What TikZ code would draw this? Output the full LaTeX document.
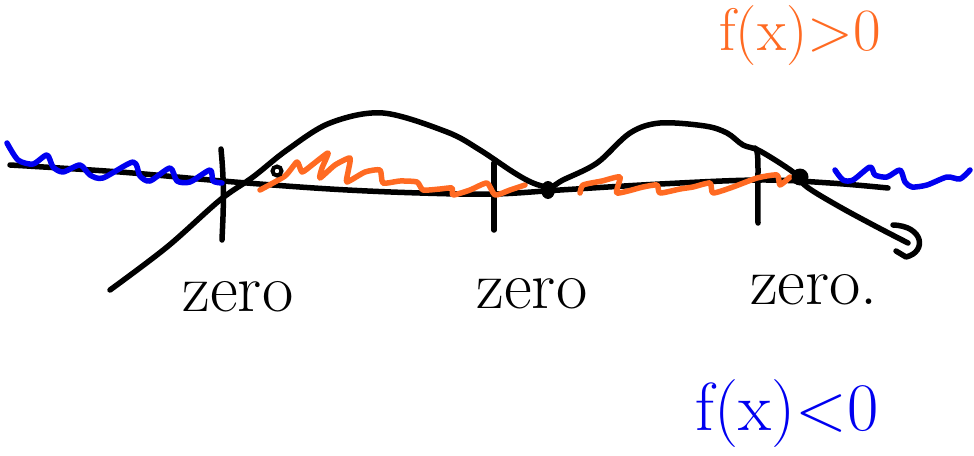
\documentclass[tikz,border=0pt]{standalone}
\usepackage{fontspec}
\begin{document}
\begin{tikzpicture}[x=1pt,y=-1pt,
  ink/.style={line width=5.5pt,line cap=round,line join=round},
  blk/.style={ink,black},
  org/.style={ink,color=sketchorange},
  blu/.style={ink,color=sketchblue},
  lbl/.style={inner sep=0pt,anchor=center}]
\definecolor{sketchorange}{HTML}{FF6A22}
\definecolor{sketchblue}{HTML}{0000F0}
\useasboundingbox (0,0) rectangle (974,455);
% axis
\draw[blk] plot[smooth,tension=0.6] coordinates {(10,165) (120,172) (222,181) (330,189) (420,193) (494,194) (560,190) (660,184) (760,180) (830,183) (888,188)};
% ticks
\draw[blk] (221,149) .. controls (225,190) and (223,215) .. (222,240);
\draw[blk] (494,163) -- (494,230);
\draw[blk] (755,148) .. controls (760,150) and (757,180) .. (758,223);
% blue waves
\draw[blu] plot[smooth,tension=0.45] coordinates {(7,143) (18,160) (33,164) (47,155) (53,167) (63,172) (80,165) (90,175) (103,178) (133,162) (140,176) (150,181) (170,168) (177,181) (190,182) (210,170) (213,181) (222,183)};
\draw[blu] plot[smooth,tension=0.45] coordinates {(835,170) (843,180) (853,180) (870,167) (875,175) (887,177) (900,170) (905,182) (912,187) (927,185) (947,177) (960,179) (970,170)};
% orange waves
\draw[org] plot[smooth,tension=0.35] coordinates {(260,190) (285,176) (297,162) (302,172) (312,165) (328,153) (322,168) (320,178) (335,165) (350,158) (348,172) (347,182) (365,172) (380,170) (383,183) (400,181) (417,182) (423,190) (440,189) (452,188) (453,195) (470,190) (487,183) (495,195) (510,190) (525,185)};
\draw[org] plot[smooth,tension=0.35] coordinates {(580,193) (583,185) (602,181) (620,177) (617,193) (643,187) (657,185) (660,193) (680,189) (693,187) (710,183) (713,193) (733,187) (757,178) (777,175) (780,185) (790,177)};
% function curve
\draw[blk] plot[smooth,tension=0.55] coordinates {(110,290) (167,247) (220,200) (253,177) (287,150) (330,123) (383,113) (447,132) (480,150) (513,172) (533,183) (550,187) (563,180) (597,163) (630,133) (660,123) (705,126) (727,133) (743,145) (760,151) (793,172) (807,187) (840,207) (877,227) (908,243)};
\draw[blk] (893,225) .. controls (924,226) and (927,252) .. (906,257) -- (896,251);
% zero points
\fill[black] (548,190) ellipse (7 and 9);
\fill[black] (800,177) circle (8.5);
\draw[black,line width=4pt] (277,171) circle (4.5);
% labels
\node[lbl] (z1) at (238,297) {\fontsize{68}{68}\selectfont zero};
\node[lbl] (z2) at (532,294) {\fontsize{68}{68}\selectfont zero};
\node[lbl] (z3) at (814,290) {\fontsize{68}{68}\selectfont zero.};
\node[lbl,color=sketchorange] (fp) at (800,36) {\fontsize{60}{60}\selectfont f(x)>0};
\node[lbl,color=sketchblue] (fn) at (787,414) {\fontsize{68}{68}\selectfont f(x)<0};
\end{tikzpicture}
\end{document}
